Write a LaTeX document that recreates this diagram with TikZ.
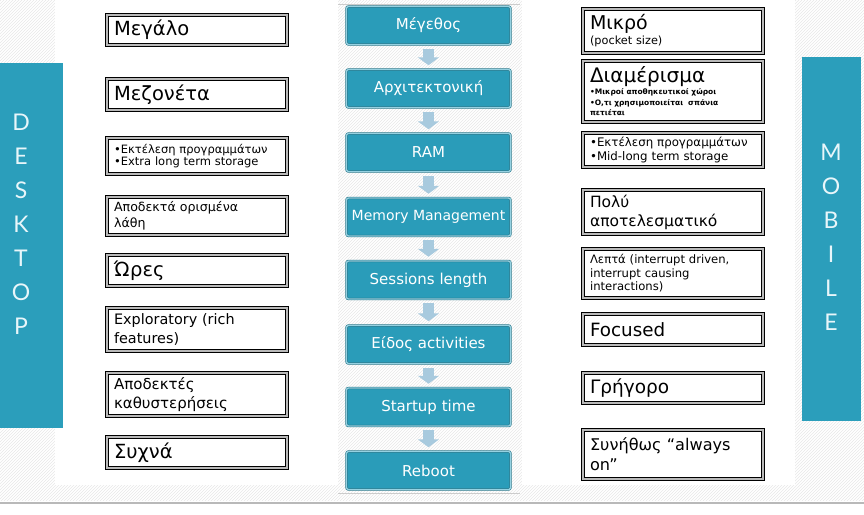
\documentclass[tikz,border=0pt]{standalone}
\usepackage{fontspec}
\setmainfont{DejaVu Sans}
\newfontfamily\barfont{Lato}
\usetikzlibrary{arrows.meta,patterns}
\definecolor{barteal}{RGB}{43,158,187}
\definecolor{boxteal}{RGB}{42,156,185}
\definecolor{boxedge}{RGB}{150,210,226}
\definecolor{arrowblue}{RGB}{168,202,222}
\definecolor{barletter}{RGB}{232,246,250}
\newcommand\fs[2]{\fontsize{#1}{#2}\selectfont}
\begin{document}
\begin{tikzpicture}[x=1pt,y=-1pt,
  lbx/.style={draw=black, line width=1.1pt, double=gray!55, double distance=1.4pt,
    fill=white, anchor=north west, minimum width=180pt, text width=166pt,
    align=left, inner xsep=7pt, inner ysep=0pt},
  cbx/.style={draw=boxteal!70!black, line width=0.5pt, double=boxedge, double distance=1.4pt,
    fill=boxteal, rounded corners=2pt, minimum width=164pt, minimum height=38pt,
    text=white, font=\fs{15}{17}, inner sep=0pt},
  arr/.style={draw=arrowblue, line width=11pt, -{Triangle[width=21pt,length=8pt]},
    shorten <=4pt, shorten >=4pt},
  barletters/.style={text=barletter, font=\barfont\fs{23}{34}, align=center, inner sep=0pt}]
\useasboundingbox (0,0) rectangle (864,514);
% background
\fill[white] (0,0) rectangle (864,514);
\fill[pattern=north east lines, pattern color=gray!18] (0,0) rectangle (864,500);
\fill[white] (55,0) rectangle (338,485);
\fill[white] (522,0) rectangle (795,485);
\draw[gray!40, line width=0.8pt] (338,4) -- (520,4);
\draw[gray!40, line width=0.8pt] (338,493) -- (520,493);
\draw[gray!55, line width=1.5pt] (0,503) -- (864,503);
% side bars
\fill[barteal] (0,63) rectangle (63,428);
\fill[barteal] (802,57) rectangle (861,421);
\node[barletters] (desk) at (21,224) {D\\E\\S\\K\\T\\O\\P};
\node[barletters] (mob) at (831,237) {M\\O\\B\\I\\L\\E};
% left column
\node[lbx, minimum height=30pt, font=\fs{19.5}{22}] (l1) at (106.5,14.5) {Μεγάλο};
\node[lbx, minimum height=31pt, font=\fs{19.5}{22}] (l2) at (106.5,78.5) {Μεζονέτα};
\node[lbx, minimum height=36pt, font=\fs{11.5}{12.5}] (l3) at (106.5,137.5) {•Εκτέλεση προγραμμάτων\\•Extra long term storage};
\node[lbx, minimum height=38pt, font=\fs{12.6}{16}] (l4) at (106.5,196.5) {Αποδεκτά ορισμένα\\λάθη};
\node[lbx, minimum height=31pt, font=\fs{19.5}{22}] (l5) at (106.5,254.5) {Ώρες};
\node[lbx, minimum height=43pt, font=\fs{14.4}{18.5}] (l6) at (106.5,307.5) {Exploratory (rich\\features)};
\node[lbx, minimum height=43pt, font=\fs{15}{19}] (l7) at (106.5,372.5) {Αποδεκτές\\καθυστερήσεις};
\node[lbx, minimum height=31pt, font=\fs{19.5}{22}] (l8) at (106.5,436.5) {Συχνά};
% right column
\node[lbx, minimum height=44pt, font=\fs{11.3}{15}] (r1) at (582.5,8.5) {{\fs{19}{15}Μικρό}\\(pocket size)};
\node[lbx, minimum height=61pt, font=\fs{7.5}{10.5}\bfseries] (r2) at (582.5,60.5) {{\mdseries\fs{20}{10.5}Διαμέρισμα}\\[1.5pt]•Μικροί αποθηκευτικοί χώροι\\•Ο,τι χρησιμοποιείται\ \ σπάνια\\πετιέται};
\node[lbx, minimum height=34pt, font=\fs{11.8}{13.5}] (r3) at (582.5,132.5) {•Εκτέλεση προγραμμάτων\\•Mid-long term storage};
\node[lbx, minimum height=44pt, font=\fs{15.5}{19}] (r4) at (582.5,189.5) {Πολύ\\αποτελεσματικό};
\node[lbx, minimum height=49pt, font=\fs{11.6}{13.5}] (r5) at (582.5,248.5) {Λεπτά (interrupt driven,\\interrupt causing\\interactions)};
\node[lbx, minimum height=31pt, font=\fs{18.3}{22}] (r6) at (582.5,313.5) {Focused};
\node[lbx, minimum height=30pt, font=\fs{18.5}{22}] (r7) at (582.5,372.5) {Γρήγορο};
\node[lbx, minimum height=49pt, font=\fs{16.1}{20}] (r8) at (582.5,429.5) {Συνήθως “always\\on”};
% centre column
\node[cbx] (c1) at (428.5,25.5) {Μέγεθος};
\node[cbx] (c2) at (428.5,88.5) {Αρχιτεκτονική};
\node[cbx] (c3) at (428.5,152.5) {RAM};
\node[cbx, font=\fs{14}{17}] (c4) at (428.5,217) {Memory Management};
\node[cbx] (c5) at (428.5,280) {Sessions length};
\node[cbx] (c6) at (428.5,344.5) {Είδος activities};
\node[cbx] (c7) at (428.5,407) {Startup time};
\node[cbx] (c8) at (428.5,470.5) {Reboot};
\draw[arr] (c1) -- (c2);
\draw[arr] (c2) -- (c3);
\draw[arr] (c3) -- (c4);
\draw[arr] (c4) -- (c5);
\draw[arr] (c5) -- (c6);
\draw[arr] (c6) -- (c7);
\draw[arr] (c7) -- (c8);
\end{tikzpicture}
\end{document}
